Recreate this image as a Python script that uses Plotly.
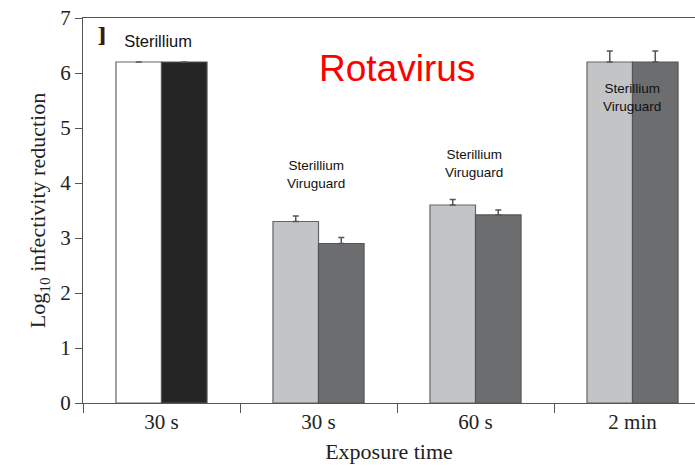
import plotly.graph_objects as go

categories = ["30 s", "30 s", "60 s", "2 min"]
positions = [0, 1, 2, 3]
first_vals = [6.2, 3.3, 3.6, 6.2]
first_err = [0, 0.1, 0.1, 0.2]
second_vals = [6.2, 2.9, 3.42, 6.2]
second_err = [0, 0.11, 0.09, 0.2]
first_colors = ["#ffffff", "#c3c4c6", "#c3c4c6", "#c3c4c6"]
second_colors = ["#262526", "#6c6d6f", "#6c6d6f", "#6c6d6f"]
y_ticks = [0, 1, 2, 3, 4, 5, 6, 7]

serif = "Liberation Serif, Times New Roman, serif"
sans = "Liberation Sans, Arial, sans-serif"
axis_col = "#555555"

fig = go.Figure()
fig.add_trace(go.Bar(
    x=positions, y=first_vals, marker=dict(color=first_colors, line=dict(color="#666666", width=1.2)),
    error_y=dict(type="data", array=first_err, arrayminus=[0]*4, symmetric=False,
                 color="#555555", thickness=1.5, width=3),
    showlegend=False))
fig.add_trace(go.Bar(
    x=positions, y=second_vals, marker=dict(color=second_colors, line=dict(color="#555555", width=1.2)),
    error_y=dict(type="data", array=second_err, arrayminus=[0]*4, symmetric=False,
                 color="#555555", thickness=1.5, width=3),
    showlegend=False))

fig.update_layout(
    width=695, height=471,
    margin=dict(l=83, r=0, t=18, b=68),
    paper_bgcolor="white", plot_bgcolor="white",
    barmode="group", bargap=0.42, bargroupgap=0,
    xaxis=dict(
        range=[-0.5, 3.398], tickmode="array", tickvals=positions, ticktext=categories,
        ticks="", showline=True, linecolor=axis_col, linewidth=1, mirror=True,
        showgrid=False, zeroline=False,
        tickfont=dict(family=serif, size=21, color="#222222"),
        minor=dict(tickmode="array", tickvals=[-0.5, 0.5, 1.5, 2.5], ticks="outside",
                   ticklen=9, tickwidth=1, tickcolor=axis_col, showgrid=False),
        title=dict(text="Exposure time", font=dict(family=serif, size=22, color="#222222"), standoff=10),
    ),
    yaxis=dict(
        range=[0, 7], tickmode="array", tickvals=y_ticks, ticks="outside", ticklen=7,
        tickcolor=axis_col, showline=True, linecolor=axis_col, linewidth=1,
        showgrid=False, zeroline=False,
        tickfont=dict(family=serif, size=21, color="#222222"),
        title=dict(text="Log<sub>10</sub> infectivity reduction",
                   font=dict(family=serif, size=22, color="#222222"), standoff=8),
    ),
)

ann = [
    dict(x=-0.415, y=6.68, text="<b>B</b>", xanchor="left", font=dict(family=serif, size=28, color="#222222")),
    dict(x=-0.08, y=6.58, text="Sterillium", font=dict(family=sans, size=16.5, color="#111111"),
         bgcolor="white", width=86, height=30, align="right"),
    dict(x=1.5, y=6.09, text="Rotavirus", font=dict(family=sans, size=37, color="#ff0000")),
    dict(x=0.984, y=4.15, text="Sterillium<br>Viruguard", font=dict(family=sans, size=13.5, color="#111111")),
    dict(x=1.99, y=4.35, text="Sterillium<br>Viruguard", font=dict(family=sans, size=13.5, color="#111111")),
    dict(x=2.997, y=5.55, text="Sterillium<br>Viruguard", font=dict(family=sans, size=13.5, color="#111111")),
]
for a in ann:
    a.update(xref="x", yref="y", showarrow=False)
    fig.add_annotation(**a)

fig.write_html("out.html")
